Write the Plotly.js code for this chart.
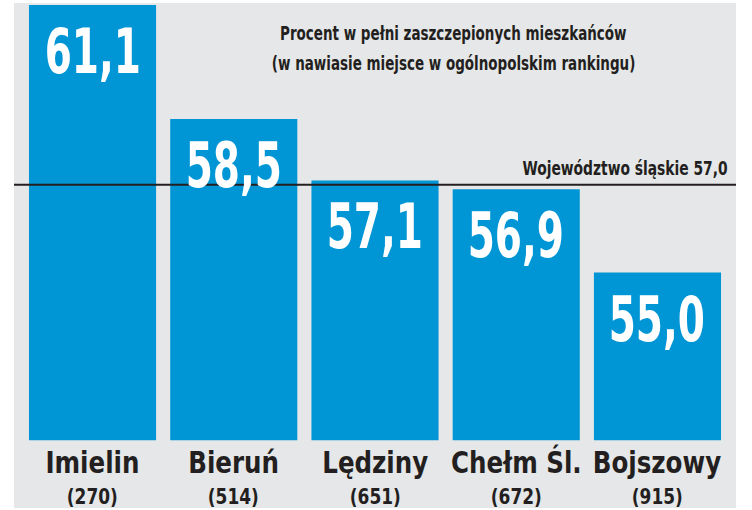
<!DOCTYPE html>
<html>
<head>
<meta charset="utf-8">
<script src="https://cdn.plot.ly/plotly-3.0.1.min.js"></script>
<style>html,body{margin:0;padding:0;background:#fff;}#chart{width:752px;height:510px;}</style>
</head>
<body>
<div id="chart"></div>
<script>
// Data
const towns = ["Imielin", "Bieruń", "Lędziny", "Chełm Śl.", "Bojszowy"];
const ranks = ["(270)", "(514)", "(651)", "(672)", "(915)"];
const values = [61.1, 58.5, 57.1, 56.9, 55.0];
const valueLabels = ["61,1", "58,5", "57,1", "56,9", "55,0"];
const regionValue = 57.0;
const regionLabel = "Województwo śląskie 57,0";
const titleLines = ["Procent w pełni zaszczepionych mieszkańców", "(w nawiasie miejsce w ogólnopolskim rankingu)"];

const FONT = "DejaVu Sans Condensed, DejaVu Sans, sans-serif";
const BLUE = "#0096d6";
const GREY = "#e6e7e8";
const DARK = "#231f20";
const BASE = 51.18;

const xIdx = towns.map((_, i) => i);

const trace = {
  type: "bar",
  x: xIdx,
  y: values.map(v => v - BASE),
  base: values.map(() => BASE),
  width: 0.9,
  marker: {color: BLUE, line: {width: 0}},
  hoverinfo: "skip"
};

function f(size, color) { return {family: FONT, size: size, color: color, weight: "bold", stretch: "condensed"}; }

const annotations = [];
const squeeze = [];
values.forEach((v, i) => {
  annotations.push({
    x: i, y: v, xref: "x", yref: "y", yanchor: "top", xanchor: "center",
    yshift: -8, showarrow: false, text: valueLabels[i],
    font: f(62, "#ffffff")
  });
  squeeze.push(0.7);
  annotations.push({
    x: i, y: 0.0911, xref: "x", yref: "paper", yanchor: "middle", xanchor: "center",
    showarrow: false, text: towns[i],
    font: f(31, DARK)
  });
  squeeze.push(0.88);
  annotations.push({
    x: i, y: 0.0218, xref: "x", yref: "paper", yanchor: "middle", xanchor: "center",
    showarrow: false, text: ranks[i],
    font: f(21, DARK)
  });
  squeeze.push(0.9);
});
annotations.push({
  x: 0.6094, y: 0.9406, xref: "paper", yref: "paper", xanchor: "center", yanchor: "middle",
  showarrow: false, text: titleLines[0], font: f(20, DARK)
});
squeeze.push(0.75);
annotations.push({
  x: 0.6094, y: 0.8812, xref: "paper", yref: "paper", xanchor: "center", yanchor: "middle",
  showarrow: false, text: titleLines[1], font: f(20, DARK)
});
squeeze.push(0.75);
annotations.push({
  x: 0.9917, y: regionValue, xref: "paper", yref: "y", xanchor: "right", yanchor: "bottom",
  yshift: 3, showarrow: false, text: regionLabel, font: f(20, DARK)
});
squeeze.push(0.77);

const layout = {
  width: 752, height: 510,
  margin: {l: 14, r: 16, t: 3, b: 2, pad: 0},
  paper_bgcolor: "#ffffff",
  plot_bgcolor: GREY,
  showlegend: false,
  xaxis: {range: [-0.556, 4.556], showgrid: false, zeroline: false, showticklabels: false, ticks: "", showline: false, fixedrange: true},
  yaxis: {range: [49.634, 61.146], showgrid: false, zeroline: false, showticklabels: false, ticks: "", showline: false, fixedrange: true},
  shapes: [{
    type: "line", xref: "paper", yref: "y", x0: 0, x1: 1, y0: regionValue, y1: regionValue,
    line: {color: DARK, width: 2}, layer: "above"
  }],
  annotations: annotations
};

Plotly.newPlot("chart", [trace], layout, {displayModeBar: false, staticPlot: true}).then(function (gd) {
  // The reference uses a very condensed face: narrow the text horizontally
  gd.querySelectorAll("g.annotation").forEach(function (g) {
    const idx = +g.getAttribute("data-index");
    const t = g.querySelector("text.annotation-text");
    if (!t || !(idx in squeeze)) return;
    const ann = annotations[idx];
    t.style.transformBox = "fill-box";
    t.style.transformOrigin = ann.xanchor === "right" ? "right center" : "center";
    t.style.transform = "scaleX(" + squeeze[idx] + ")";
  });
});
</script>
</body>
</html>
